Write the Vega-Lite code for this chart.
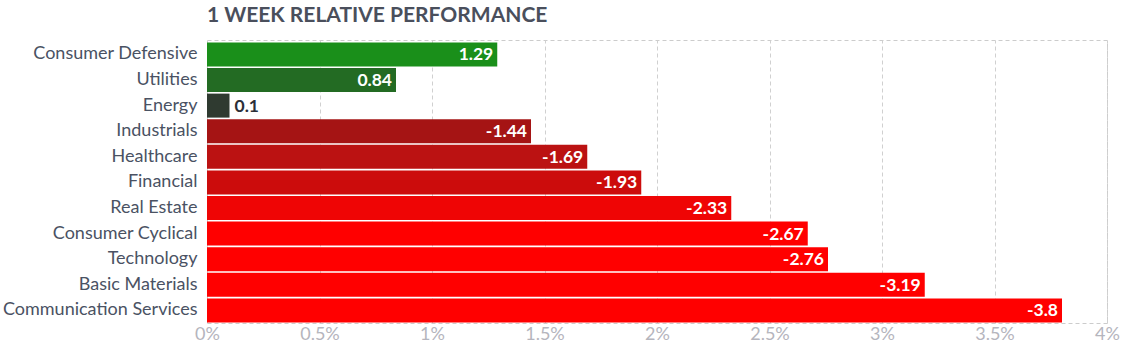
{
  "$schema": "https://vega.github.io/schema/vega-lite/v6.json",
  "width": 900,
  "height": 283,
  "autosize": "none",
  "padding": {"left": 207, "top": 40, "right": 22, "bottom": 28},
  "background": "white",
  "title": {
    "text": "1 WEEK RELATIVE PERFORMANCE",
    "anchor": "start",
    "frame": "group",
    "font": "Lato",
    "fontSize": 21,
    "fontWeight": "bold",
    "color": "#4a4f5c",
    "offset": 14
  },
  "config": {
    "view": {"stroke": "#cccccc", "strokeDash": [4, 3], "strokeWidth": 1},
    "font": "Lato"
  },
  "data": {
    "values": [
      {"sector": "Consumer Defensive", "value": 1.29},
      {"sector": "Utilities", "value": 0.84},
      {"sector": "Energy", "value": 0.1},
      {"sector": "Industrials", "value": -1.44},
      {"sector": "Healthcare", "value": -1.69},
      {"sector": "Financial", "value": -1.93},
      {"sector": "Real Estate", "value": -2.33},
      {"sector": "Consumer Cyclical", "value": -2.67},
      {"sector": "Technology", "value": -2.76},
      {"sector": "Basic Materials", "value": -3.19},
      {"sector": "Communication Services", "value": -3.8}
    ]
  },
  "transform": [
    {"calculate": "abs(datum.value)", "as": "absval"},
    {"calculate": "'' + datum.value", "as": "label"}
  ],
  "encoding": {
    "y": {
      "field": "sector",
      "type": "nominal",
      "sort": null,
      "scale": {"paddingInner": 0.0625, "paddingOuter": 0.059, "align": 0.8},
      "axis": {
        "title": null,
        "ticks": false,
        "domain": false,
        "labelFont": "Lato",
        "labelFontSize": 18,
        "labelColor": "#4a5263",
        "labelPadding": 10,
        "labelLimit": 300
      }
    }
  },
  "layer": [
    {
      "mark": {"type": "bar"},
      "encoding": {
        "x": {
          "field": "absval",
          "type": "quantitative",
          "scale": {"domain": [0, 4], "nice": false},
          "axis": {
            "title": null,
            "values": [0, 0.5, 1, 1.5, 2, 2.5, 3, 3.5, 4],
            "labelExpr": "datum.value + '%'",
            "labelFont": "Lato",
            "labelFontSize": 18,
            "labelColor": "#b5b5bd",
            "labelPadding": 2,
            "ticks": false,
            "domain": false,
            "grid": true,
            "gridColor": "#d0d0d0",
            "gridDash": [4, 3],
            "labelFlush": false
          }
        },
        "color": {
          "field": "sector",
          "type": "nominal",
          "legend": null,
          "scale": {
            "domain": ["Consumer Defensive", "Utilities", "Energy", "Industrials", "Healthcare", "Financial", "Real Estate", "Consumer Cyclical", "Technology", "Basic Materials", "Communication Services"],
            "range": ["#1a8f1a", "#236b23", "#2f3a30", "#a51414", "#bb1212", "#cc0c0c", "#ef0505", "#ff0000", "#ff0000", "#ff0000", "#ff0000"]
          }
        }
      }
    },
    {
      "transform": [{"filter": "datum.absval >= 0.3"}],
      "mark": {"type": "text", "align": "right", "baseline": "middle", "dx": -4, "dy": 1, "font": "Lato", "fontSize": 17.5, "fontWeight": "bold", "color": "white"},
      "encoding": {
        "x": {"field": "absval", "type": "quantitative"},
        "text": {"field": "label", "type": "nominal"}
      }
    },
    {
      "transform": [{"filter": "datum.absval < 0.3"}],
      "mark": {"type": "text", "align": "left", "baseline": "middle", "dx": 5, "dy": 1, "font": "Lato", "fontSize": 17.5, "fontWeight": "bold", "color": "#2b2f38"},
      "encoding": {
        "x": {"field": "absval", "type": "quantitative"},
        "text": {"field": "label", "type": "nominal"}
      }
    }
  ]
}
